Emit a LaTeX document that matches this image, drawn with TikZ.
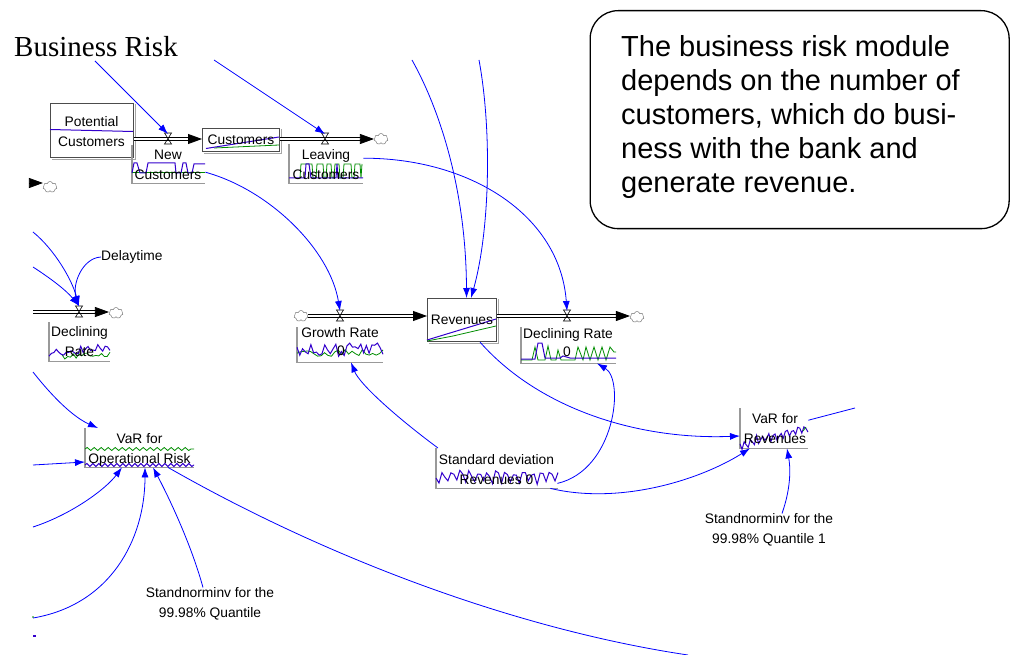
\documentclass[tikz,border=0pt]{standalone}
\usepackage{fontspec}
\setmainfont{Liberation Sans}
\newfontfamily\titlefont{Liberation Serif}
\usetikzlibrary{arrows.meta,shapes.symbols,decorations.pathmorphing}
\definecolor{vblue}{RGB}{0,0,255}
\definecolor{gpurple}{RGB}{51,0,204}
\definecolor{ggreen}{RGB}{0,140,0}
\begin{document}
\begin{tikzpicture}[x=1pt,y=-1pt,
  conn/.style={draw=vblue, line width=0.8pt, -{Latex[length=10pt,width=7pt]}},
  link/.style={draw=vblue, line width=0.8pt},
  pipe/.style={draw=black, double=white, double distance=1.6pt, line width=0.8pt},
  pipehead/.style={draw=black, line width=0.8pt, -{Triangle[length=14pt,width=10pt]}},
  stock/.style={draw=black!70, line width=1.1pt, inner sep=0pt, anchor=north west},
  shadow/.style={draw=black!35, line width=1.3pt},
  gbox/.style={inner sep=0pt, anchor=north west},
  gaxis/.style={draw=black!40, line width=1.3pt},
  lbl/.style={font=\fontsize{13.8}{20}\selectfont, inner sep=0pt, align=center},
  cloudn/.style={cloud, cloud puffs=7, draw=black!60, fill=white, minimum width=14pt, minimum height=11pt, inner sep=0pt, aspect=1.4},
  gb/.style={draw=gpurple, line width=1pt},
  gg/.style={draw=ggreen, line width=0.8pt},
  valvepic/.pic={\draw[black, line width=0.6pt] (-3.5,-6) -- (3.5,-6) -- (-3.5,5) -- (3.5,5) -- cycle;}
]
\pgfmathsetseed{11}
\useasboundingbox (0,0) rectangle (1010,655);

% title
\node[font=\titlefont\fontsize{29}{34}\selectfont, anchor=base west, inner sep=0pt] (title) at (14,57) {Business Risk};

% note
\node[draw=black, line width=1.3pt, rounded corners=28pt, minimum width=419pt, minimum height=218pt, anchor=north west, inner sep=0pt] (note) at (589.5,10) {};
\node[anchor=north west, inner sep=0pt, align=left, font=\fontsize{29}{34}\selectfont] (notetext) at (621,35.5) {The business risk module\\depends on the number of\\customers, which do busi-\\ness with the bank and\\generate revenue.};

% stocks
\node[stock, minimum width=83pt, minimum height=54pt] (pc) at (50,103) {};
\node[stock, minimum width=77pt, minimum height=23pt] (cust) at (202,128) {};
\node[stock, minimum width=69pt, minimum height=43pt] (rev) at (427,298) {};
\foreach \s in {pc,cust,rev}{\draw[shadow] ([xshift=1.4,yshift=-1.5]\s.north east) -- ([xshift=1.4,yshift=-1.4]\s.south east) -- ([xshift=1.5,yshift=-1.4]\s.south west);}

% graph boxes
\node[gbox, minimum width=73pt, minimum height=38pt] (nc) at (132,145) {};
\node[gbox, minimum width=74pt, minimum height=39pt] (lc) at (289,144) {};
\node[gbox, minimum width=86pt, minimum height=35pt] (gr) at (297,327) {};
\node[gbox, minimum width=95pt, minimum height=36pt] (drr) at (521,327) {};
\node[gbox, minimum width=61pt, minimum height=39pt] (drl) at (49,322) {};
\node[gbox, minimum width=109pt, minimum height=39pt] (varop) at (85,428) {};
\node[gbox, minimum width=122pt, minimum height=40pt] (sdr) at (436,448) {};
\node[gbox, minimum width=68pt, minimum height=40pt] (varrev) at (740,408) {};
\foreach \b in {nc,lc,gr,drr,drl,varop,sdr,varrev}{\draw[gaxis] (\b.north west) |- (\b.south east);}

% sparklines
\draw[gb] (50,129.5) -- (133,131.5);
\draw[gg] (214,148) -- (279,145);
\draw[gb] (206,148.5) -- (279,137);
\draw[gg] (132,172) -- (205,172);
\draw[gb] plot coordinates {(132,173)(134,163)(137,163)(140,173)(146,173)(148,163)(175,163)(176,173)(181,173)(183,163)(186,163)(188,173)(192,173)(194,164)(205,164)};
\draw[gg] plot coordinates {(300,178)(301,164)(312,164)(313,178)(316,178)(317,164)(323,164)(324,178)(326,178)(327,164)(331,164)(332,178)(334,178)(335,164)(339,164)(340,178)(343,178)(344,164)(351,164)(352,178)(354,178)(355,164)(360,164)(361,178)(362,164)};
\draw[gb] plot coordinates {(289,178)(305,178)(306,164)(309,164)(311,178)(336,178)(337,164)(338,178)(363,178)};
\draw[gg] (427,341) -- (453,336) -- (496,326);
\draw[gb] (427,340) -- (496,319);
\draw[gg] plot[domain=297:383, samples=26] (\x,{353+4*rand});
\draw[gb] plot[domain=297:383, samples=32] (\x,{350+7.5*rand});
\draw[gg] plot coordinates {(521,360)(532,360)(535,347)(538,360)(545,360)(548,346)(551,360)(556,360)(558,350)(561,360)(575,360)(578,347)(583,360)(586,347)(590,360)(594,347)(598,360)(602,347)(606,360)(610,347)(614,352)(616,352)};
\draw[gb] plot coordinates {(521,359)(535,359)(538,343)(542,343)(545,358)(560,358)(563,356)(570,358)(616,358)};
\draw[gg] plot[domain=62:110, samples=18] (\x,{357-0.06*(\x-62)+2.5*rand});
\draw[gb] plot[domain=49:110, samples=26] (\x,{354-0.12*(\x-49)+4*rand});
\draw[gg, decorate, decoration={snake, segment length=7pt, amplitude=1.5pt}] (85,449) -- (194,449);
\draw[gb, decorate, decoration={snake, segment length=6pt, amplitude=1.5pt}] (85,465) -- (194,465);
\draw[gb] plot[domain=0:122, samples=42] ({436+\x},{476.5+6*sin(\x*40)+2*rand});
\draw[gb] plot[domain=0:68, samples=34] ({740+\x},{445-0.25*\x+4*sin(\x*60)+2*rand});
\draw[gg] (803,431) -- (806,427);

% labels
\node[lbl] (pct) at (91.5,131.5) {Potential\\Customers};
\node[lbl] (custt) at (241,140) {Customers};
\node[lbl] (nct) at (168,165) {New\\Customers};
\node[lbl] (lct) at (326,165) {Leaving\\Customers};
\node[lbl] (revt) at (462,320) {Revenues};
\node[lbl] (grt) at (340,333) {Growth Rate};
\node[lbl] (gr0) at (341,351) {0};
\node[lbl] (drrt) at (568,335) {Declining Rate};
\node[lbl] (drr0) at (567,352) {0};
\node[lbl] (drlt) at (79.5,342) {Declining\\Rate};
\node[lbl] (varopt) at (139.5,449.5) {VaR for\\Operational Risk};
\node[lbl] (sdrt) at (496.5,469.5) {Standard deviation\\Revenues 0};
\node[lbl] (varrevt) at (775,429) {VaR for\\Revenues};
\node[lbl, anchor=west] (delay) at (101,257) {Delaytime};
\node[lbl] (sn1) at (210,604) {Standnorminv for the\\99.98\% Quantile};
\node[lbl] (sn2) at (769,530) {Standnorminv for the\\99.98\% Quantile 1};

% valves
\coordinate (vnc) at (168,139);
\coordinate (vlc) at (325,139);
\coordinate (vgr) at (340,316);
\coordinate (vdr) at (567,316);
\coordinate (vdl) at (79,312);

% clouds
\node[cloudn] (clc) at (381,139) {};
\node[cloudn] (cgr) at (301,316) {};
\node[cloudn] (cdr) at (637,317) {};
\node[cloudn] (cdl) at (116,313) {};
\node[cloudn] (cx) at (50,187) {};

% pipes
\coordinate (p1a) at (pc.east |- vnc);
\coordinate (p1b) at (cust.west |- vnc);
\draw[pipe] (p1a) -- ([xshift=-10]p1b);
\draw[pipehead] ([xshift=-14]p1b) -- (p1b);
\coordinate (p2a) at (cust.east |- vlc);
\coordinate (p2b) at (clc.west |- vlc);
\draw[pipe] (p2a) -- ([xshift=-10]p2b);
\draw[pipehead] ([xshift=-14]p2b) -- (p2b);
\coordinate (p3a) at (cgr.east |- vgr);
\coordinate (p3b) at (rev.west |- vgr);
\draw[pipe] (p3a) -- ([xshift=-10]p3b);
\draw[pipehead] ([xshift=-14]p3b) -- (p3b);
\coordinate (p4a) at (rev.east |- vdr);
\coordinate (p4b) at (cdr.west |- vdr);
\draw[pipe] (p4a) -- ([xshift=-10]p4b);
\draw[pipehead] ([xshift=-14]p4b) -- (p4b);
\coordinate (p5a) at (33,312);
\coordinate (p5b) at (cdl.west |- vdl);
\draw[pipe] (p5a) -- ([xshift=-10]p5b);
\draw[pipehead] ([xshift=-14]p5b) -- (p5b);
\coordinate (p6a) at (33,183);
\coordinate (p6b) at (cx.west |- p6a);
\draw[pipehead] (p6a) -- (p6b);
\foreach \v in {vnc,vlc,vgr,vdr,vdl}{\pic at (\v) {valvepic};}

% free ends
\coordinate (fa1) at (95,61);
\coordinate (fa2) at (214,60);
\coordinate (fa3) at (412,60);
\coordinate (fa4) at (479,60);
\coordinate (fl1) at (33,232);
\coordinate (fl2) at (33,267);
\coordinate (fo1) at (33,372);
\coordinate (fo2) at (33,465);
\coordinate (fo3) at (33,527);
\coordinate (fo4) at (33,618);
\coordinate (fo5) at (688,655);
\coordinate (fr) at (855,408);

% connectors
\draw[conn] (fa1) -- ([yshift=5]vnc);
\draw[conn] (fa2) -- ([yshift=5]vlc);
\draw[conn] (fa3) .. controls (440,110) and (466,190) .. ([xshift=4.5]rev.north);
\draw[conn] (fa4) .. controls (492,130) and (490,230) .. ([xshift=9]rev.north);
\draw[conn] ([yshift=5.5]lc.east) .. controls (470,158) and (560,215) .. ([yshift=5]vdr);
\draw[conn] ([yshift=-8]nc.east) .. controls (270,190) and (330,250) .. ([yshift=5]vgr);
\draw[conn] (delay.west) .. controls (82,258) and (72,285) .. ([yshift=6]vdl);
\draw[conn] (fl1) .. controls (55,250) and (72,280) .. ([yshift=6]vdl);
\draw[conn] (fl2) .. controls (50,278) and (66,290) .. ([yshift=6]vdl);
\draw[conn] (fo1) .. controls (55,400) and (75,418) .. ([xshift=13]varop.north west);
\draw[conn] (fo2) -- ([yshift=-34]varop.north west);
\draw[conn] (fo3) .. controls (70,515) and (105,490) .. ([xshift=37]varop.south west);
\draw[conn] (fo4) .. controls (110,605) and (145,540) .. ([xshift=60]varop.south west);
\draw[conn] ([xshift=-7]sn1.north) .. controls (190,540) and (165,490) .. ([xshift=68]varop.south west);
\draw[link] ([xshift=83]varop.south west) .. controls (330,560) and (520,630) .. (fo5);
\draw[conn] ([xshift=2]sdr.north west) .. controls (400,420) and (360,385) .. ([xshift=54]gr.south west);
\draw[conn] ([xshift=-1,yshift=5]sdr.south east) .. controls (615,470) and (625,380) .. ([xshift=76]drr.south west);
\draw[conn] ([xshift=-8]sdr.south east) .. controls (620,505) and (700,480) .. ([xshift=10]varrev.south west);
\draw[conn] ([xshift=53]rev.south west) .. controls (540,410) and (640,440) .. ([yshift=-28]varrev.north west);
\draw[link] ([yshift=8]varrev.east) -- (fr);
\draw[conn] ([xshift=13]sn2.north) .. controls (792,485) and (790,465) .. ([xshift=47]varrev.south west);

% stray marks at left edge
\draw[gpurple, line width=1.5pt] (33,636) -- (36,636);
\fill[ggreen] (33,617) circle (0.8);
\end{tikzpicture}
\end{document}
